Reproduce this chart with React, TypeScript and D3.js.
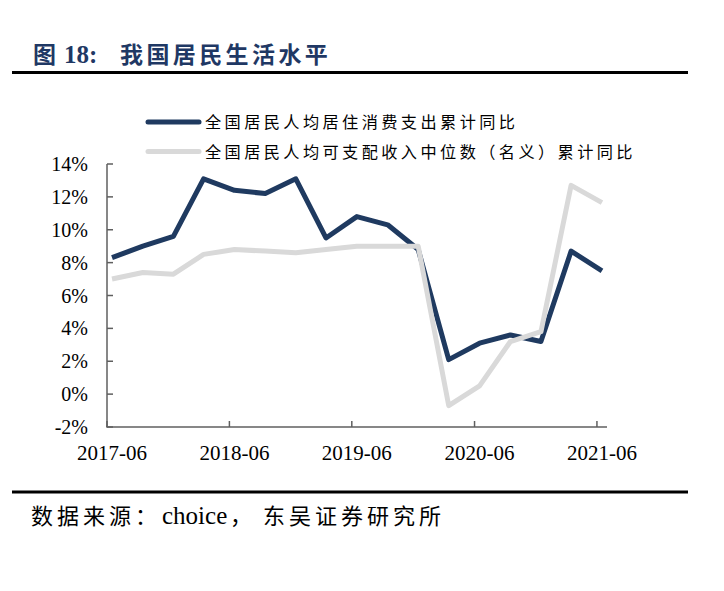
import React, { useRef, useEffect } from 'react';
import * as d3 from 'd3';

// quarterly observations, 2017-06 .. 2021-06
const periods = [
  '2017-06', '2017-09', '2017-12', '2018-03', '2018-06', '2018-09', '2018-12',
  '2019-03', '2019-06', '2019-09', '2019-12', '2020-03', '2020-06', '2020-09',
  '2020-12', '2021-03', '2021-06',
];
const housingSpend = [8.3, 9.0, 9.6, 13.1, 12.4, 12.2, 13.1, 9.5, 10.8, 10.3, 8.8, 2.1, 3.1, 3.6, 3.2, 8.7, 7.5];
const medianIncome = [7.0, 7.4, 7.3, 8.5, 8.8, 8.7, 8.6, 8.8, 9.0, 9.0, 9.0, -0.7, 0.5, 3.2, 3.8, 12.7, 11.65];
const seriesNames = ['全国居民人均居住消费支出累计同比', '全国居民人均可支配收入中位数（名义）累计同比'];
const xTickLabels = ['2017-06', '2018-06', '2019-06', '2020-06', '2021-06'];
const yTicks = [-2, 0, 2, 4, 6, 8, 10, 12, 14];

const NAVY = '#1f3a60';
const GRAY = '#d9d9d9';
const AXIS = '#5f5f5f';
const CJK = "'Noto Sans CJK SC', sans-serif";
const SERIF = "'Liberation Serif', 'Times New Roman', serif";

const App: React.FC = () => {
  const svgRef = useRef<SVGSVGElement>(null);
  const width = 724;
  const height = 591;

  useEffect(() => {
    if (!svgRef.current) return;
    const svg = d3.select(svgRef.current);
    svg.selectAll('*').remove();

    const parse = d3.timeParse('%Y-%m-%d');
    // points sit mid-month, ticks at month start
    const pointDate = (p: string) => parse(p + '-16')!;
    const tickDate = (p: string) => parse(p + '-01')!;

    const x = d3.scaleTime()
      .domain([parse('2017-06-01')!, parse('2021-07-01')!])
      .range([107, 607]);
    const y = d3.scaleLinear().domain([-2, 14]).range([427, 164]);

    // title
    const title = svg.append('g').attr('fill', '#1f3864').attr('font-weight', 700);
    title.append('text').attr('x', 33).attr('y', 63)
      .attr('font-family', CJK).attr('font-size', 23).text('图');
    title.append('text').attr('x', 64).attr('y', 63)
      .attr('font-family', SERIF).attr('font-size', 25).text('18:');
    title.append('text').attr('x', 120).attr('y', 63)
      .attr('font-family', CJK).attr('font-size', 23).attr('letter-spacing', 3.4)
      .text('我国居民生活水平');

    svg.append('rect').attr('x', 12).attr('y', 71).attr('width', 676).attr('height', 3).attr('fill', '#000');
    svg.append('rect').attr('x', 12).attr('y', 490.5).attr('width', 676).attr('height', 3).attr('fill', '#000');

    // legend
    const legend = svg.append('g');
    [NAVY, GRAY].forEach((c, i) => {
      const ly = 122 + i * 29.5;
      legend.append('line')
        .attr('x1', 148).attr('x2', 199).attr('y1', ly).attr('y2', ly)
        .attr('stroke', c).attr('stroke-width', 5).attr('stroke-linecap', 'round');
      legend.append('text')
        .attr('x', 205).attr('y', ly + 6)
        .attr('font-family', CJK).attr('font-size', 16.2).attr('letter-spacing', 3.4)
        .attr('fill', '#000')
        .text(seriesNames[i]);
    });

    // axes
    const axisG = svg.append('g').attr('stroke', AXIS).attr('stroke-width', 1.5);
    axisG.append('line').attr('x1', 107).attr('x2', 107).attr('y1', y(14)).attr('y2', y(-2));
    axisG.append('line').attr('x1', 106.25).attr('x2', 607).attr('y1', y(-2)).attr('y2', y(-2));
    yTicks.forEach(t => {
      axisG.append('line').attr('x1', 107).attr('x2', 113).attr('y1', y(t)).attr('y2', y(t));
    });
    xTickLabels.forEach(t => {
      axisG.append('line').attr('x1', x(tickDate(t))).attr('x2', x(tickDate(t)))
        .attr('y1', y(-2)).attr('y2', y(-2) - 6);
    });

    svg.append('g')
      .selectAll('text')
      .data(yTicks)
      .enter()
      .append('text')
      .attr('x', 88)
      .attr('y', d => y(d) + 7)
      .attr('text-anchor', 'end')
      .attr('font-family', SERIF)
      .attr('font-size', 20)
      .attr('fill', '#000')
      .text(d => `${d}%`);

    svg.append('g')
      .selectAll('text')
      .data(xTickLabels)
      .enter()
      .append('text')
      .attr('x', d => x(pointDate(d)))
      .attr('y', 460)
      .attr('text-anchor', 'middle')
      .attr('font-family', SERIF)
      .attr('font-size', 21)
      .attr('fill', '#000')
      .text(d => d);

    // lines
    const line = d3.line<number>()
      .x((_, i) => x(pointDate(periods[i])))
      .y(d => y(d));

    svg.append('path').datum(housingSpend)
      .attr('d', line).attr('fill', 'none').attr('stroke', NAVY)
      .attr('stroke-width', 5).attr('stroke-linejoin', 'round');
    svg.append('path').datum(medianIncome)
      .attr('d', line).attr('fill', 'none').attr('stroke', GRAY)
      .attr('stroke-width', 5).attr('stroke-linejoin', 'round');

    // source
    const src = svg.append('g').attr('fill', '#000');
    src.append('text').attr('x', 31).attr('y', 524)
      .attr('font-family', CJK).attr('font-size', 22).attr('letter-spacing', 4)
      .text('数据来源：');
    src.append('text').attr('x', 162).attr('y', 524)
      .attr('font-family', SERIF).attr('font-size', 25).text('choice');
    src.append('text').attr('x', 230).attr('y', 524)
      .attr('font-family', CJK).attr('font-size', 22).text('，');
    src.append('text').attr('x', 263).attr('y', 524)
      .attr('font-family', CJK).attr('font-size', 22).attr('letter-spacing', 4)
      .text('东吴证券研究所');
  }, []);

  return (
    <svg
      ref={svgRef}
      width={width}
      height={height}
      style={{ position: 'absolute', left: 0, top: 0, background: '#fff' }}
    />
  );
};

export default App;
